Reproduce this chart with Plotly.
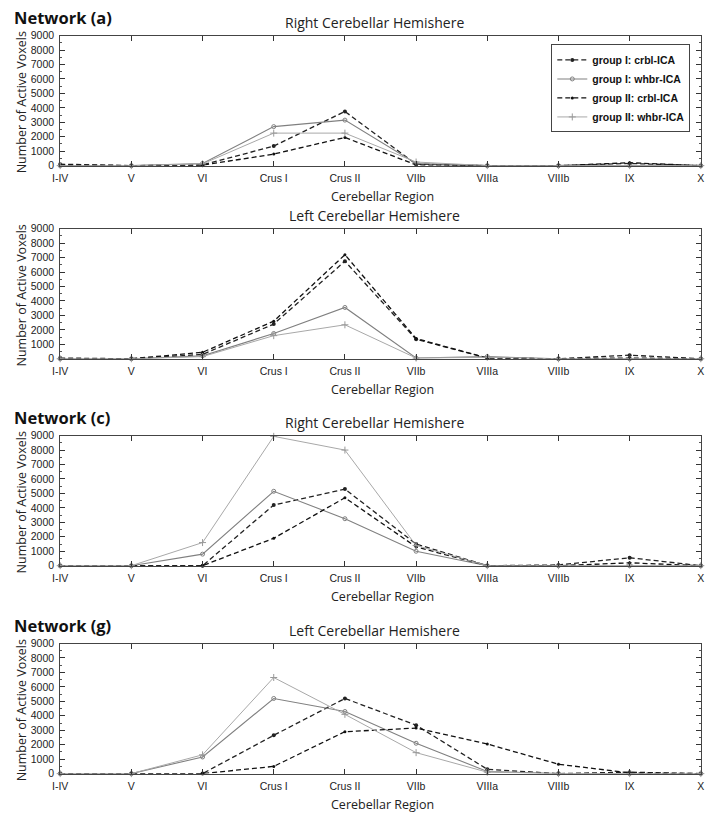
import plotly.graph_objects as go
from plotly.subplots import make_subplots

regions = ["I-IV", "V", "VI", "Crus I", "Crus II", "VIIb", "VIIIa", "VIIIb", "IX", "X"]
series_names = ["group I: crbl-ICA", "group I: whbr-ICA", "group II: crbl-ICA", "group II: whbr-ICA"]

# Network (a) - Right hemisphere
a_g1_crbl = [100, 0, 50, 1350, 3750, 100, 0, 0, 150, 0]
a_g1_whbr = [0, 0, 150, 2700, 3150, 150, 0, 0, 0, 0]
a_g2_crbl = [50, 0, 30, 800, 1950, 50, 0, 0, 200, 0]
a_g2_whbr = [0, 0, 120, 2250, 2250, 250, 0, 0, 0, 0]

# Network (a) - Left hemisphere
b_g1_crbl = [50, 0, 300, 2400, 6750, 1350, 50, 0, 250, 0]
b_g1_whbr = [0, 0, 200, 1750, 3550, 50, 150, 0, 0, 0]
b_g2_crbl = [0, 0, 450, 2600, 7200, 1400, 50, 0, 50, 0]
b_g2_whbr = [0, 0, 150, 1600, 2350, 50, 100, 0, 0, 0]

# Network (c) - Right hemisphere
c_g1_crbl = [0, 0, 0, 4200, 5300, 1500, 0, 50, 550, 0]
c_g1_whbr = [0, 0, 800, 5150, 3250, 1000, 0, 0, 0, 0]
c_g2_crbl = [0, 0, 0, 1900, 4700, 1300, 0, 0, 200, 0]
c_g2_whbr = [0, 0, 1600, 8950, 8000, 1400, 0, 0, 50, 0]

# Network (g) - Left hemisphere
g_g1_crbl = [0, 0, 0, 2650, 5200, 3350, 300, 0, 100, 0]
g_g1_whbr = [0, 0, 1150, 5200, 4300, 2100, 150, 0, 0, 0]
g_g2_crbl = [0, 0, 0, 500, 2900, 3150, 2050, 650, 50, 0]
g_g2_whbr = [0, 0, 1300, 6650, 4100, 1450, 100, 0, 0, 0]

panels = [
    [a_g1_crbl, a_g1_whbr, a_g2_crbl, a_g2_whbr],
    [b_g1_crbl, b_g1_whbr, b_g2_crbl, b_g2_whbr],
    [c_g1_crbl, c_g1_whbr, c_g2_crbl, c_g2_whbr],
    [g_g1_crbl, g_g1_whbr, g_g2_crbl, g_g2_whbr],
]
panel_titles = ["Right Cerebellar Hemishere", "Left Cerebellar Hemishere",
                "Right Cerebellar Hemishere", "Left Cerebellar Hemishere"]
network_labels = ["Network (a)", None, "Network (c)", "Network (g)"]

W, H = 712, 821
plot_px = [(30, 162), (226, 358), (436, 568), (647, 779)]
x0_px, x1_px = 53, 704

styles = [
    dict(line=dict(color="#222222", width=1.3, dash="5px,3px"),
         marker=dict(symbol="circle", size=4, color="#222222")),
    dict(line=dict(color="#808080", width=1.1),
         marker=dict(symbol="circle-open", size=4, color="#808080")),
    dict(line=dict(color="#111111", width=1.3, dash="5px,3px"),
         marker=dict(symbol="circle", size=3, color="#111111")),
    dict(line=dict(color="#a8a8a8", width=1.0),
         marker=dict(symbol="cross-thin-open", size=5, color="#999999",
                     line=dict(width=1, color="#999999"))),
]

fig = make_subplots(rows=4, cols=1)
xvals = list(range(len(regions)))

for p, data in enumerate(panels):
    for s, vals in enumerate(data):
        fig.add_trace(go.Scatter(
            x=xvals, y=vals, mode="lines+markers", name=series_names[s],
            showlegend=(p == 0), legendrank=s + 1, **styles[s]),
            row=p + 1, col=1)

tick_font = dict(family="Liberation Sans Narrow, Arial Narrow, Liberation Sans, sans-serif",
                 size=10.5, color="#222222")
annotations = []
for p in range(4):
    top, bot = plot_px[p]
    ydom = [1 - bot / H, 1 - top / H]
    xa = "xaxis" if p == 0 else f"xaxis{p + 1}"
    ya = "yaxis" if p == 0 else f"yaxis{p + 1}"
    fig.layout[xa].update(
        domain=[x0_px / W, x1_px / W], range=[0, 9.004], tickvals=xvals, ticktext=regions,
        ticks="inside", ticklen=5, tickcolor="#333", mirror="ticks", showline=True,
        linecolor="#444", linewidth=1, showgrid=False, zeroline=False,
        tickfont=tick_font, ticklabelstandoff=3)
    fig.layout[ya].update(
        domain=ydom, range=[0, 9000], tickvals=list(range(0, 9001, 1000)),
        ticks="inside", ticklen=5, tickcolor="#333", mirror="ticks", showline=True,
        linecolor="#444", linewidth=1, showgrid=False, zeroline=False,
        tickfont=tick_font, ticklabelstandoff=3,
        minor=dict(ticks="inside", ticklen=2, dtick=500, tickcolor="#555"))
    annotations.append(dict(text=panel_titles[p], x=372 / W, y=1 - (top - 13) / H,
                            xref="paper", yref="paper", showarrow=False,
                            xanchor="center", yanchor="middle",
                            font=dict(family="Open Sans, sans-serif", size=14, color="#222")))
    annotations.append(dict(text="Cerebellar Region", x=380 / W, y=1 - (bot + 31) / H,
                            xref="paper", yref="paper", showarrow=False,
                            xanchor="center", yanchor="middle",
                            font=dict(family="Open Sans, sans-serif", size=12.5, color="#222")))
    annotations.append(dict(text="Number of Active Voxels", x=14 / W, y=1 - (top + bot + 4) / 2 / H,
                            xref="paper", yref="paper", showarrow=False, textangle=-90,
                            xanchor="center", yanchor="middle",
                            font=dict(family="Open Sans, sans-serif", size=12.5, color="#222")))
    if network_labels[p]:
        annotations.append(dict(text="<b>" + network_labels[p] + "</b>", x=4 / W,
                                y=1 - (top - 18) / H,
                                xref="paper", yref="paper", showarrow=False,
                                xanchor="left", yanchor="middle",
                                font=dict(family="Open Sans, sans-serif", size=16.5, color="#111")))

fig.update_layout(
    width=W, height=H, margin=dict(l=0, r=0, t=0, b=0),
    paper_bgcolor="white", plot_bgcolor="white",
    annotations=annotations,
    legend=dict(x=693 / W, y=1 - 39 / H, xanchor="right", yanchor="top",
                xref="paper", yref="paper",
                bgcolor="white", bordercolor="#444", borderwidth=1,
                font=dict(family="Liberation Sans Narrow, Arial Narrow, Liberation Sans, sans-serif",
                          size=10.5, color="#111", weight="bold"),
                tracegroupgap=0, itemwidth=30, traceorder="normal"),
)
fig.update_traces(cliponaxis=False)
fig.write_html("out.html", config={"displayModeBar": False},
               post_script="document.body.style.margin='0px';")
